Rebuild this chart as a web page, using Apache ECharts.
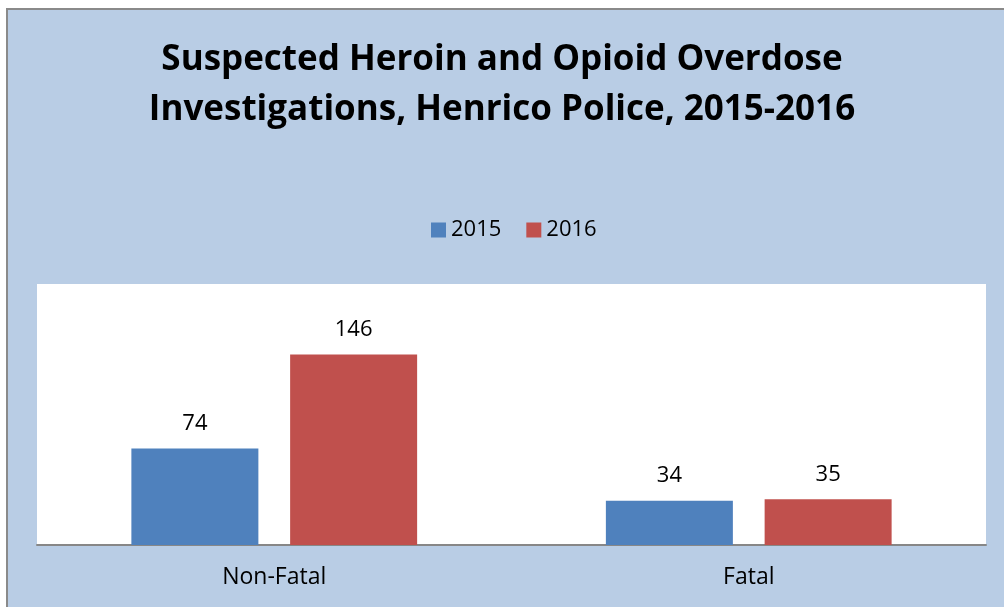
<!DOCTYPE html>
<html lang="en">
<head>
    <meta charset="UTF-8">
    <title>Suspected Heroin and Opioid Overdose Investigations</title>
    <script src="https://cdn.jsdelivr.net/npm/echarts@6/dist/echarts.min.js"></script>
    <style>
        html, body { margin: 0; padding: 0; background: #fff; overflow: hidden; }
        #frame {
            position: absolute; left: 6px; top: 8px; width: 1010px; height: 610px;
            background: #b9cde5; border-left: 2px solid #8a8a8a; border-top: 2px solid #8a8a8a;
        }
        #main { position: absolute; left: 0; top: 0; width: 1004px; height: 607px; }
    </style>
</head>
<body>
<div id="frame"></div>
<div id="main"></div>
<script type="text/javascript">
  var categories = ['Non-Fatal', 'Fatal'];
  var years = ['2015', '2016'];
  var values2015 = [74, 34];
  var values2016 = [146, 35];

  var myChart = echarts.init(document.getElementById('main'));
  var labelStyle = {
    show: true,
    position: 'top',
    distance: 14,
    color: '#000',
    fontSize: 22,
    fontFamily: 'Open Sans'
  };
  var option = {
    backgroundColor: 'transparent',
    animation: false,
    title: {
      text: 'Suspected Heroin and Opioid Overdose\nInvestigations, Henrico Police, 2015-2016',
      left: 'center',
      top: 30,
      textStyle: {
        fontFamily: 'Open Sans',
        fontWeight: 'bold',
        fontSize: 35,
        lineHeight: 50,
        color: '#000'
      }
    },
    legend: {
      data: years,
      top: 214,
      left: 426,
      itemWidth: 15,
      itemHeight: 15,
      itemGap: 25,
      icon: 'rect',
      textStyle: { fontFamily: 'Open Sans', fontSize: 22, color: '#000' }
    },
    grid: {
      show: true,
      backgroundColor: '#fff',
      borderWidth: 0,
      left: 37,
      right: 18,
      top: 284,
      bottom: 62
    },
    xAxis: {
      type: 'category',
      data: categories,
      axisLine: { lineStyle: { color: '#878787', width: 2 } },
      axisTick: { show: false },
      axisLabel: { margin: 21, color: '#000', fontSize: 23, fontFamily: 'Open Sans' }
    },
    yAxis: {
      type: 'value',
      min: 0,
      max: 200,
      show: false,
      splitLine: { show: false }
    },
    series: [
      {
        name: years[0],
        type: 'bar',
        data: values2015,
        barWidth: 127,
        barGap: '25%',
        itemStyle: { color: '#4f81bd' },
        label: labelStyle
      },
      {
        name: years[1],
        type: 'bar',
        data: values2016,
        barWidth: 127,
        itemStyle: { color: '#c0504d' },
        label: labelStyle
      }
    ]
  };
  myChart.setOption(option);
</script>
</body>
</html>
